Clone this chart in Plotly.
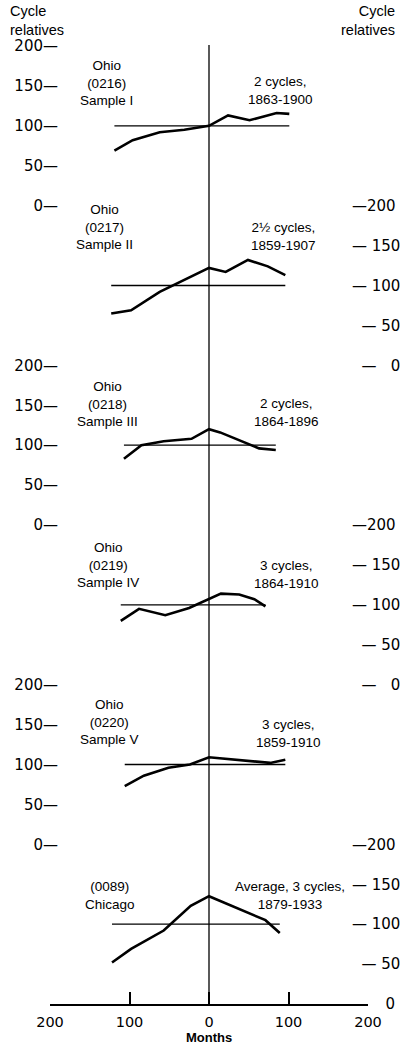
import plotly.graph_objects as go

# Months from the reference date (0) and cycle relatives of each series
months_0216 = [-119, -96, -62, -31, 0, 24, 51, 85, 101]
rel_0216 = [69, 82, 92, 95, 100, 113, 107, 116, 115]

months_0217 = [-123, -98, -62, -43, 0, 21, 49, 74, 96]
rel_0217 = [65, 69, 92, 101, 122, 117, 132, 124, 113]

months_0218 = [-107, -85, -57, -22, 0, 14, 63, 84]
rel_0218 = [83, 100, 105, 108, 120, 116, 96, 94]

months_0219 = [-111, -88, -55, -25, 15, 38, 57, 71]
rel_0219 = [80, 95, 87, 96, 114, 113, 107, 98]

months_0220 = [-106, -82, -51, -24, 0, 33, 77, 96]
rel_0220 = [73, 86, 96, 100, 109, 106, 102, 106]

months_0089 = [-122, -98, -57, -23, 0, 71, 89]
rel_0089 = [52, 69, 92, 123, 135, 105, 89]

left_labels = [
    "Ohio<br>(0216)<br>Sample I",
    "Ohio<br>(0217)<br>Sample II",
    "Ohio<br>(0218)<br>Sample III",
    "Ohio<br>(0219)<br>Sample IV",
    "Ohio<br>(0220)<br>Sample V",
    "(0089)<br>Chicago",
]
right_labels = [
    "2 cycles,<br>1863-1900",
    "2½ cycles,<br>1859-1907",
    "2 cycles,<br>1864-1896",
    "3 cycles,<br>1864-1910",
    "3 cycles,<br>1859-1910",
    "Average, 3 cycles,<br>1879-1933",
]

scale_ticks = [0, 50, 100, 150, 200]
left_ticktext = ["0—", "50—", "100—", "150—", "200—"]
right_ticktext = ["\u2007—\u2007 0", "\u2007— 50", "— 100", "— 150", "—200"]
# bottom scale: its zero meets the end of the month axis
right_ticktext_last = ["\u2007\u2007\u2007 0", "\u2007— 50", "— 100", "— 150", "—200"]
month_ticks = [-200, -100, 0, 100, 200]
month_ticktext = ["200", "100", "0", "100", "200"]
base_level = 100

series = [
    (months_0216, rel_0216),
    (months_0217, rel_0217),
    (months_0218, rel_0218),
    (months_0219, rel_0219),
    (months_0220, rel_0220),
    (months_0089, rel_0089),
]

W, H = 402, 1044
TOP, BOTTOM = 46, 1004          # pixel rows of the stacked plotting band
LEFT, RIGHT = 50, 368           # pixel columns of the month scale


def px_x(px):
    return px / W


def px_y(py):
    return 1 - py / H


TEXT_FONT = dict(family="Liberation Sans, Arial, sans-serif", size=13.5, color="black")
CAPTION_FONT = dict(family="Liberation Sans, Arial, sans-serif", size=14.5, color="black")
TICK_FONT = dict(family="DejaVu Sans, sans-serif", size=15, color="black")
MONTH_TICK_FONT = dict(family="DejaVu Sans, sans-serif", size=14.5, color="black")

fig = go.Figure()

n = len(series)
band = (BOTTOM - TOP) / n
layout_axes = {}
for i, (mx, rv) in enumerate(series):
    yname = "y" if i == 0 else f"y{i + 1}"
    ykey = "yaxis" if i == 0 else f"yaxis{i + 1}"
    top_px = TOP + i * band
    bot_px = top_px + band
    on_left = i % 2 == 0

    # base line at 100 across the span of the series
    fig.add_trace(go.Scatter(
        x=[min(mx), max(mx)], y=[base_level, base_level],
        mode="lines", line=dict(color="black", width=1.3),
        yaxis=yname, xaxis="x", showlegend=False, hoverinfo="skip",
    ))
    fig.add_trace(go.Scatter(
        x=mx, y=rv, mode="lines",
        line=dict(color="black", width=2.6),
        yaxis=yname, xaxis="x", showlegend=False,
    ))

    if on_left:
        ticktext = left_ticktext
    elif i == n - 1:
        ticktext = right_ticktext_last
    else:
        ticktext = right_ticktext

    layout_axes[ykey] = dict(
        domain=[px_y(bot_px), px_y(top_px)],
        range=[0, 200],
        anchor="free",
        side="left" if on_left else "right",
        position=px_x(58) if on_left else px_x(351),
        tickvals=scale_ticks,
        ticktext=ticktext,
        ticks="",
        showgrid=False, zeroline=False, showline=False,
        automargin=False,
        tickfont=TICK_FONT,
    )

    fig.add_annotation(
        x=px_x([106, 104, 107, 108, 110, 110][i]),
        y=px_y([83, 227, 404, 565, 722, 895][i]),
        xref="paper", yref="paper", text=left_labels[i],
        showarrow=False, xanchor="center", yanchor="middle",
        align="center", font=TEXT_FONT,
    )
    fig.add_annotation(
        x=px_x([280, 283, 286, 286, 288, 290][i]),
        y=px_y([90, 236, 412, 574, 733, 895][i]),
        xref="paper", yref="paper", text=right_labels[i],
        showarrow=False, xanchor="center", yanchor="middle",
        align="center", font=TEXT_FONT,
    )

# vertical reference line at month 0 through all panels
fig.add_shape(
    type="line", xref="x", yref="paper",
    x0=0, x1=0, y0=px_y(BOTTOM), y1=px_y(TOP - 1),
    line=dict(color="black", width=1.3),
)

# scale captions
fig.add_annotation(
    x=px_x(8), y=px_y(20), xref="paper", yref="paper",
    text="Cycle<br>relatives", showarrow=False,
    xanchor="left", yanchor="middle", align="left", font=CAPTION_FONT,
)
fig.add_annotation(
    x=px_x(397), y=px_y(20), xref="paper", yref="paper",
    text="Cycle<br>relatives", showarrow=False,
    xanchor="right", yanchor="middle", align="right", font=CAPTION_FONT,
)

# month axis caption
fig.add_annotation(
    x=0, y=px_y(1037.5), xref="x", yref="paper",
    text="<b>Months</b>", showarrow=False,
    xanchor="center", yanchor="middle", borderpad=0,
    font=dict(family="Liberation Sans, Arial, sans-serif", size=13, color="black"),
)

fig.update_layout(
    width=W, height=H,
    margin=dict(l=0, r=0, t=0, b=0, pad=0, autoexpand=False),
    paper_bgcolor="white", plot_bgcolor="white",
    showlegend=False,
    xaxis=dict(
        domain=[px_x(LEFT), px_x(RIGHT)],
        range=[-200, 200],
        anchor="y6",
        tickvals=month_ticks, ticktext=month_ticktext,
        ticks="inside", ticklen=12, tickwidth=1.8, tickcolor="black",
        ticklabelstandoff=4,
        showline=True, linecolor="black", linewidth=1.8,
        showgrid=False, zeroline=False, automargin=False,
        tickfont=MONTH_TICK_FONT,
    ),
    **layout_axes,
)

fig.write_html("out.html")
